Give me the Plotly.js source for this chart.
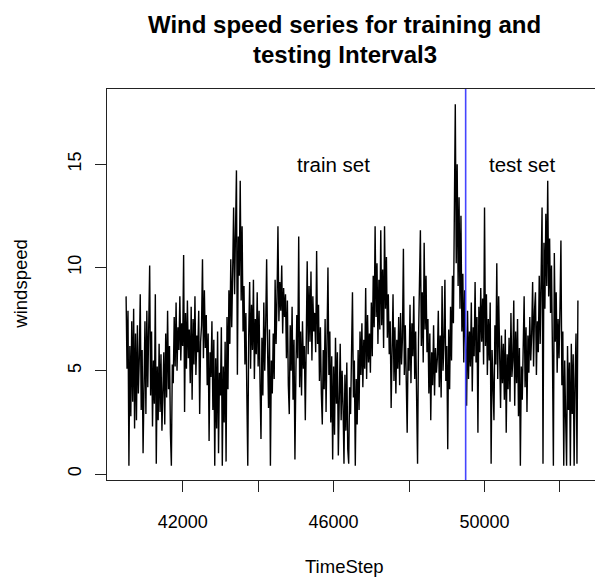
<!DOCTYPE html>
<html>
<head>
<meta charset="utf-8">
<script src="https://cdn.plot.ly/plotly-3.0.1.min.js"></script>
<style>html,body{margin:0;padding:0;background:#fff;}#chart{width:595px;height:581px;}</style>
</head>
<body>
<div id="chart"></div>
<script>
// Time index of the series
const timeStart = 40500;
const timeStep = 25;
// Wind speed values (train + test)
const windspeed = [
8.6,5.1,7.9,0.4,6.2,2.8,7.4,3.5,8.0,2.2,
6.8,2.6,7.2,3.9,5.6,8.7,3.1,6.0,1.0,4.8,
7.4,2.9,7.9,4.2,6.6,10.1,3.8,6.9,2.3,5.5,
3.4,8.7,0.5,5.2,2.6,6.3,3.0,5.8,2.1,4.6,
5.9,2.4,6.8,3.7,7.9,4.1,6.2,2.0,0.4,5.3,
4.4,7.6,5.2,8.3,5.0,7.1,6.0,8.6,5.5,7.3,
6.2,10.6,3.0,7.8,5.1,8.4,5.6,7.0,4.4,8.1,
3.6,7.5,5.3,8.6,4.8,6.7,5.9,7.9,2.9,6.4,
7.2,10.4,5.6,8.9,6.1,7.7,4.3,6.8,1.6,5.9,
4.7,7.4,3.1,6.5,0.4,5.6,2.2,6.9,1.0,4.9,
3.8,7.1,0.4,5.2,2.5,6.4,0.6,7.6,4.1,8.9,
6.3,10.4,7.1,9.8,12.9,8.7,11.2,14.7,4.8,11.5,
9.6,14.2,8.4,12.0,6.9,9.1,5.3,7.8,3.9,0.4,
6.7,9.3,5.1,8.2,6.0,9.4,4.6,7.5,5.8,8.8,
5.2,7.9,4.4,1.7,6.6,3.8,8.3,5.0,7.2,10.4,
6.1,3.2,7.0,0.4,5.5,3.9,6.8,4.6,9.4,6.3,
8.5,12.0,7.4,9.3,7.9,10.1,6.8,9.0,7.6,8.7,
5.6,8.4,4.3,2.9,7.2,5.0,8.1,3.6,6.5,0.7,
4.9,7.7,5.6,11.5,4.2,6.9,3.8,7.4,5.1,6.2,
2.6,7.0,10.3,5.8,9.1,6.4,9.8,5.5,8.6,6.9,
7.8,5.9,10.8,6.3,8.2,4.5,7.1,3.9,2.4,6.0,
4.1,7.5,3.0,6.4,10.0,4.8,6.9,2.5,5.7,0.7,
5.2,1.9,6.6,3.4,5.9,0.9,4.5,6.3,2.6,5.0,
3.3,0.5,4.8,2.1,5.4,1.2,0.5,4.2,2.9,6.1,
8.8,3.7,5.5,0.4,4.6,2.4,6.0,3.1,6.9,4.8,
7.3,4.2,6.5,5.1,9.0,4.6,7.7,5.4,6.8,4.9,
8.3,5.7,9.6,7.1,12.0,7.6,10.2,6.3,9.4,7.0,
11.8,7.2,9.9,6.1,12.0,8.0,10.5,6.6,8.7,5.8,
7.4,3.2,6.2,8.7,4.5,7.1,3.9,6.5,5.1,7.6,
4.3,7.8,5.3,6.6,10.9,4.8,7.2,3.6,2.0,6.1,
5.0,8.2,4.4,7.3,5.7,8.6,4.6,6.9,3.8,0.5,
6.5,9.1,11.8,6.2,8.8,5.4,11.2,7.0,9.6,5.9,
7.5,3.9,6.8,2.6,5.9,4.3,7.2,3.8,6.1,4.9,
5.6,7.9,4.2,6.7,3.7,9.1,5.0,6.4,9.4,4.5,
6.2,1.2,7.0,4.1,8.1,5.5,9.6,7.3,11.8,17.9,
10.2,15.0,9.1,13.4,8.0,12.5,6.9,9.7,5.4,8.9,
6.3,3.3,7.9,4.6,6.9,5.2,8.3,4.0,7.1,5.7,
9.3,5.4,7.6,2.0,8.1,5.9,9.0,6.4,8.5,5.3,
12.9,6.2,8.7,4.8,7.5,5.5,8.3,0.5,6.0,4.1,
2.6,7.2,5.3,10.2,4.6,8.6,5.9,3.2,6.7,4.4,
6.3,3.6,7.0,2.0,5.8,4.1,6.6,3.5,7.8,4.7,
5.5,8.4,3.3,6.9,4.4,7.5,2.8,6.1,0.4,5.2,
3.6,6.4,8.6,4.2,7.1,3.0,6.7,4.9,7.6,5.5,
6.8,9.3,5.2,7.9,8.8,4.8,7.4,5.9,9.6,6.3,
9.5,12.9,0.5,11.2,8.0,12.6,9.1,14.2,8.6,11.4,
7.8,10.1,5.9,0.4,10.7,6.4,8.8,4.9,7.5,5.6,
8.1,11.3,4.3,6.9,0.4,5.5,2.7,0.4,6.2,3.1,
5.4,0.4,6.3,2.9,5.8,0.4,4.6,6.8,0.5,8.4
];
const splitTime = 49500;
const xTickVals = [42000, 44000, 46000, 48000, 50000, 52000];
const xTickText = ["42000", "", "46000", "", "50000", ""];
const yTickVals = [0, 5, 10, 15];
const yTickText = ["0", "5", "10", "15"];
const labels = [
  {text: "train set", x: 46000, y: 15},
  {text: "test set", x: 51000, y: 15}
];

const timeSteps = windspeed.map((_, i) => timeStart + timeStep * i);
const FONT = "Liberation Sans, Arial, Helvetica, sans-serif";

const trace = {
  x: timeSteps, y: windspeed, type: "scatter", mode: "lines",
  line: {color: "#000000", width: 1.4}, hoverinfo: "skip"
};

const layout = {
  width: 595, height: 581,
  margin: {l: 107, r: 0, t: 89, b: 101},
  paper_bgcolor: "#ffffff", plot_bgcolor: "#ffffff",
  showlegend: false,
  font: {family: FONT, color: "#000000", size: 18},
  xaxis: {
    range: [39994, 52928], showgrid: false, zeroline: false,
    showline: true, linecolor: "#222", linewidth: 1, mirror: true,
    ticks: "outside", ticklen: 11, tickcolor: "#222", tickwidth: 1,
    tickvals: xTickVals, ticktext: xTickText, ticklabelstandoff: 14,
    tickfont: {size: 18, family: FONT}
  },
  yaxis: {
    range: [-0.29, 18.64], showgrid: false, zeroline: false,
    showline: true, linecolor: "#222", linewidth: 1, mirror: false,
    ticks: "outside", ticklen: 11, tickcolor: "#222", tickwidth: 1,
    tickvals: yTickVals, ticktext: yTickText, tickangle: -90, ticklabelstandoff: 7,
    tickfont: {size: 18, family: FONT}
  },
  shapes: [{
    type: "line", xref: "x", yref: "paper", x0: splitTime, x1: splitTime, y0: 0, y1: 1,
    line: {color: "#4545ff", width: 1.6}
  }],
  annotations: [
    {text: "<b>Wind speed series for training and</b>", xref: "paper", yref: "paper",
     x: 0.4877, y: 1.1637, xanchor: "center", yanchor: "middle", showarrow: false,
     font: {size: 24, family: FONT}},
    {text: "<b>testing Interval3</b>", xref: "paper", yref: "paper",
     x: 0.4877, y: 1.0895, xanchor: "center", yanchor: "middle", showarrow: false,
     font: {size: 24, family: FONT}},
    {text: "TimeStep", xref: "paper", yref: "paper",
     x: 0.4857, y: -0.2225, xanchor: "center", yanchor: "middle", showarrow: false,
     font: {size: 18.5, family: FONT}},
    {text: "windspeed", xref: "paper", yref: "paper", textangle: -90,
     x: -0.178, y: 0.5, xanchor: "center", yanchor: "middle", showarrow: false,
     font: {size: 18.5, family: FONT}}
  ].concat(labels.map(l => ({
    text: l.text, x: l.x, y: l.y, xref: "x", yref: "y", showarrow: false,
    xanchor: "center", yanchor: "middle", font: {size: 20.5, family: FONT}
  })))
};

Plotly.newPlot("chart", [trace], layout, {staticPlot: true, displayModeBar: false});
</script>
</body>
</html>
